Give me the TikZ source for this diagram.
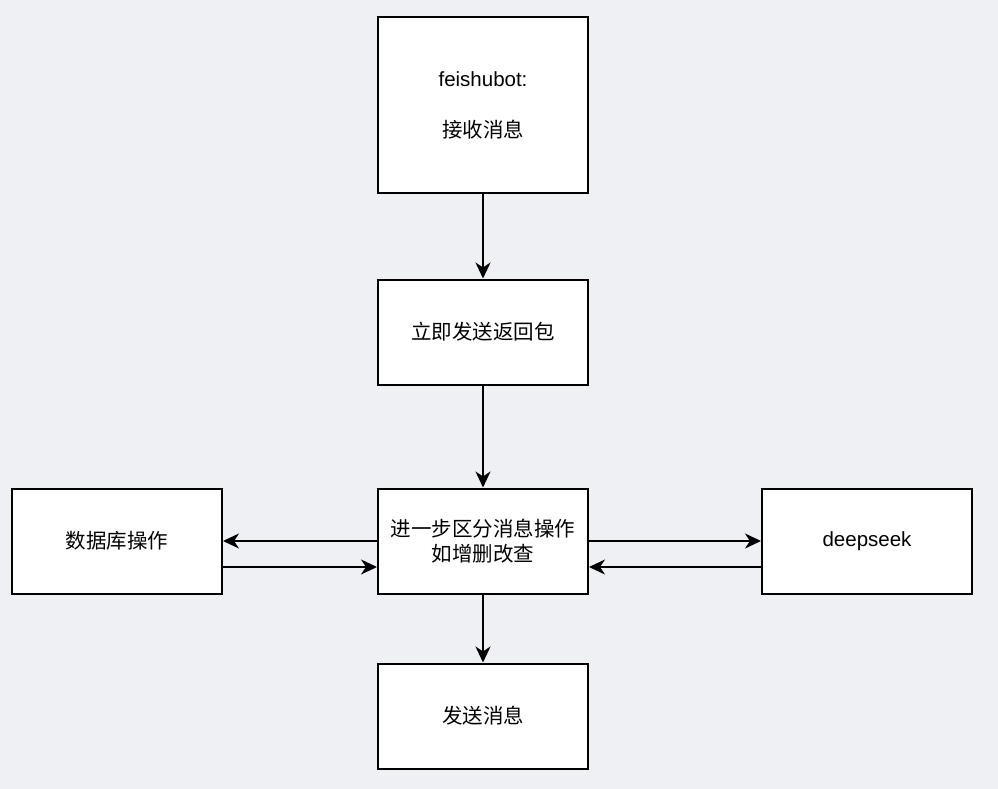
\documentclass[tikz,border=0pt]{standalone}
\usepackage{fontspec}
\setmainfont{Liberation Sans}
\newfontfamily\cjk{Noto Sans CJK SC}
\usetikzlibrary{arrows.meta}
\definecolor{bgcol}{RGB}{239,240,244}
\tikzset{
  box/.style={draw, line width=2pt, fill=white, minimum width=210pt, minimum height=105pt,
    inner sep=0pt, align=center, font=\fontsize{20.5}{25.5}\selectfont},
  flow/.style={line width=2pt, -{Stealth[length=16pt, width=15pt, inset=5pt]}}
}

\begin{document}
\begin{tikzpicture}[x=1pt, y=-1pt]
    \fill[bgcol] (0,0) rectangle (998,789);

    % main column
    \node[box, minimum height=175pt] (recv) at (483,105) {feishubot:\\[25.5pt]{\cjk 接收消息}};
    \node[box] (ack) at (483,332) {\cjk 立即发送返回包};
    \node[box] (dispatch) at (483,541) {\cjk 进一步区分消息操作\\\cjk 如增删改查};
    \node[box] (send) at (483,716) {\cjk 发送消息};

    % side boxes
    \node[box] (db) at (117,541) {\cjk 数据库操作};
    \node[box] (ds) at (867,541) {deepseek};

    \draw[flow] (recv) -- (ack);
    \draw[flow] (ack) -- (dispatch);
    \draw[flow] (dispatch) -- (send);

    \draw[flow] (dispatch.west) -- (db.east);
    \draw[flow] ([yshift=-26pt]db.east) -- ([yshift=-26pt]dispatch.west);
    \draw[flow] (dispatch.east) -- (ds.west);
    \draw[flow] ([yshift=-26pt]ds.west) -- ([yshift=-26pt]dispatch.east);
\end{tikzpicture}
\end{document}
